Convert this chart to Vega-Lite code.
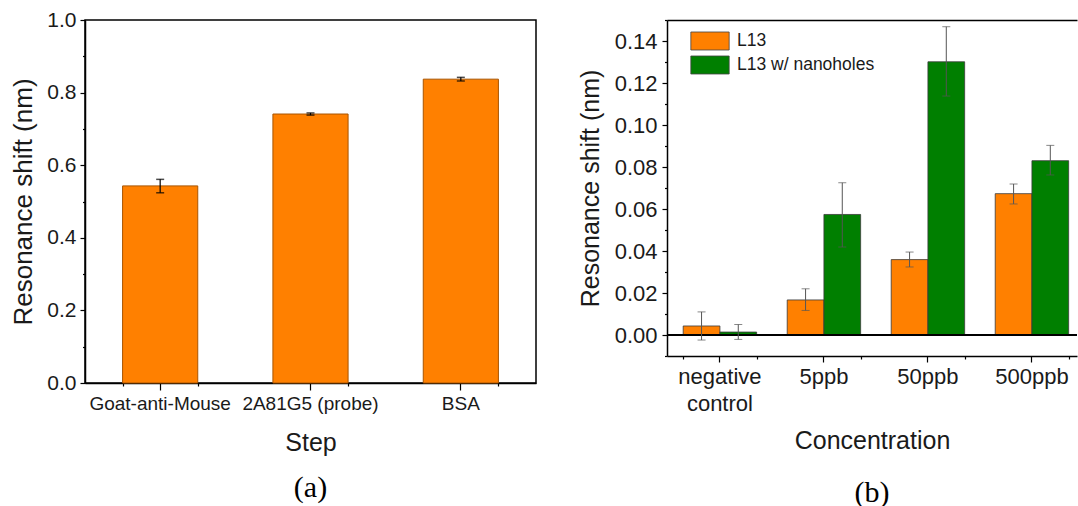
{
  "$schema": "https://vega.github.io/schema/vega-lite/v6.json",
  "background": "white",
  "padding": {"left": 10, "top": 8, "right": 0, "bottom": 0},
  "spacing": 41,
  "config": {
    "font": "Liberation Sans",
    "view": {"stroke": "black", "strokeWidth": 1.5},
    "axis": {
      "domainColor": "black", "domainWidth": 1.5, "tickColor": "black", "tickWidth": 1.2,
      "labelColor": "#1a1a1a", "titleColor": "#1a1a1a", "grid": false,
      "labelFont": "Liberation Sans", "titleFont": "Liberation Sans", "titleFontWeight": "normal"
    }
  },
  "hconcat": [
    {
      "width": 451,
      "height": 363,
      "title": {"text": "(a)", "orient": "bottom", "font": "Liberation Serif", "fontSize": 30, "fontWeight": "normal", "color": "black", "offset": 18},
      "data": {"values": [
        {"step": "Goat-anti-Mouse", "shift": 0.543, "lo": 0.524, "hi": 0.561},
        {"step": "2A81G5 (probe)", "shift": 0.741, "lo": 0.738, "hi": 0.744},
        {"step": "BSA", "shift": 0.837, "lo": 0.832, "hi": 0.842}
      ]},
      "resolve": {"axis": {"x": "independent", "y": "independent"}},
      "layer": [
        {
          "mark": {"type": "bar", "color": "#FF8000", "stroke": "#a85400", "strokeWidth": 1},
          "encoding": {
            "x": {"field": "step", "type": "nominal", "sort": null,
              "scale": {"paddingInner": 0.5, "paddingOuter": 0.25},
              "axis": {"orient": "bottom", "title": "Step", "labelAngle": 0, "labelFontSize": 19, "titleFontSize": 25, "tickSize": 7, "labelPadding": 4, "titlePadding": 17}},
            "y": {"field": "shift", "type": "quantitative",
              "scale": {"domain": [0, 1], "nice": false},
              "axis": {"orient": "left", "title": "Resonance shift (nm)", "values": [0, 0.2, 0.4, 0.6, 0.8, 1.0], "format": ".1f", "labelFontSize": 21, "titleFontSize": 26, "tickSize": 5, "labelPadding": 4, "titlePadding": 10}}
          }
        },
        {
          "mark": {"type": "rule", "color": "black", "strokeWidth": 1.2},
          "encoding": {
            "x": {"field": "step", "type": "nominal", "sort": null,
              "axis": {"orient": "bottom", "tickBand": "extent", "labels": false, "domain": false, "title": null, "tickSize": 3}},
            "y": {"field": "lo", "type": "quantitative",
              "axis": {"orient": "left", "values": [0.1, 0.3, 0.5, 0.7, 0.9], "labels": false, "domain": false, "title": null, "tickSize": 2.5}},
            "y2": {"field": "hi"}
          }
        },
        {
          "mark": {"type": "tick", "color": "black", "size": 8, "thickness": 1.5},
          "encoding": {
            "x": {"field": "step", "type": "nominal", "sort": null, "axis": null},
            "y": {"field": "lo", "type": "quantitative", "axis": null}
          }
        },
        {
          "mark": {"type": "tick", "color": "black", "size": 8, "thickness": 1.5},
          "encoding": {
            "x": {"field": "step", "type": "nominal", "sort": null, "axis": null},
            "y": {"field": "hi", "type": "quantitative", "axis": null}
          }
        }
      ]
    },
    {
      "width": 410,
      "height": 336,
      "view": {"stroke": null},
      "title": {"text": "(b)", "orient": "bottom", "font": "Liberation Serif", "fontSize": 30, "fontWeight": "normal", "color": "black", "offset": 25},
      "data": {"values": [
        {"conc": "negative control", "series": "L13", "shift": 0.0043, "lo": -0.0024, "hi": 0.0110},
        {"conc": "negative control", "series": "L13 w/ nanoholes", "shift": 0.0014, "lo": -0.0021, "hi": 0.0050},
        {"conc": "5ppb", "series": "L13", "shift": 0.0167, "lo": 0.0117, "hi": 0.0220},
        {"conc": "5ppb", "series": "L13 w/ nanoholes", "shift": 0.0574, "lo": 0.0419, "hi": 0.0725},
        {"conc": "50ppb", "series": "L13", "shift": 0.0359, "lo": 0.0324, "hi": 0.0395},
        {"conc": "50ppb", "series": "L13 w/ nanoholes", "shift": 0.1301, "lo": 0.1138, "hi": 0.1468},
        {"conc": "500ppb", "series": "L13", "shift": 0.0673, "lo": 0.0624, "hi": 0.0719},
        {"conc": "500ppb", "series": "L13 w/ nanoholes", "shift": 0.0830, "lo": 0.0762, "hi": 0.0903}
      ]},
      "resolve": {"axis": {"x": "independent", "y": "independent"}},
      "layer": [
        {
          "mark": {"type": "bar", "stroke": "#3a3a3a", "strokeWidth": 0.8},
          "encoding": {
            "x": {"field": "conc", "type": "nominal", "sort": null,
              "scale": {"paddingInner": 0.294, "paddingOuter": 0.118, "align": 0.66},
              "axis": {"orient": "bottom", "title": "Concentration", "labelAngle": 0, "labelFontSize": 22, "labelLineHeight": 27,
                "labelExpr": "datum.label == 'negative control' ? ['negative', 'control'] : datum.label",
                "titleFontSize": 25, "tickSize": 6, "labelPadding": 4, "titlePadding": 14}},
            "xOffset": {"field": "series", "type": "nominal", "sort": null, "scale": {"paddingInner": 0, "paddingOuter": 0}},
            "y": {"field": "shift", "type": "quantitative", "stack": null,
              "scale": {"domain": [-0.01, 0.15], "nice": false, "zero": false},
              "axis": {"orient": "left", "title": "Resonance shift (nm)", "values": [0, 0.02, 0.04, 0.06, 0.08, 0.10, 0.12, 0.14], "format": ".2f", "labelFontSize": 22, "titleFontSize": 25, "tickSize": 5, "labelPadding": 5, "titlePadding": 11}},
            "color": {"field": "series", "type": "nominal",
              "scale": {"domain": ["L13", "L13 w/ nanoholes"], "range": ["#FF8000", "#007F00"]},
              "legend": {"orient": "none", "legendX": 615, "legendY": 11, "title": null, "direction": "vertical",
                "symbolType": "M-2,-0.94H2V0.94H-2Z", "symbolSize": 367, "symbolStrokeColor": "#444", "symbolStrokeWidth": 0.8, "symbolOpacity": 1,
                "labelFontSize": 17.5, "labelFont": "Liberation Sans", "labelColor": "#1a1a1a", "labelOffset": 17, "rowPadding": 2, "padding": 0}}
          }
        },
        {
          "mark": {"type": "rule", "color": "black", "strokeWidth": 1.3},
          "encoding": {
            "y": {"datum": 0, "type": "quantitative",
              "axis": {"orient": "left", "values": [-0.01, 0.01, 0.03, 0.05, 0.07, 0.09, 0.11, 0.13, 0.15], "labels": false, "domain": false, "title": null, "tickSize": 2.5}}
          }
        },
        {
          "mark": {"type": "rule", "color": "#555", "strokeWidth": 1},
          "encoding": {
            "x": {"field": "conc", "type": "nominal", "sort": null,
              "axis": {"orient": "bottom", "tickBand": "extent", "labels": false, "domain": false, "title": null, "tickSize": 3}},
            "xOffset": {"field": "series", "type": "nominal", "sort": null},
            "y": {"field": "lo", "type": "quantitative", "axis": null},
            "y2": {"field": "hi"}
          }
        },
        {
          "mark": {"type": "tick", "color": "#555", "size": 8, "thickness": 1},
          "encoding": {
            "x": {"field": "conc", "type": "nominal", "sort": null,
              "axis": {"orient": "top", "ticks": false, "labels": false, "domain": true, "title": null}},
            "xOffset": {"field": "series", "type": "nominal", "sort": null},
            "y": {"field": "lo", "type": "quantitative", "axis": null}
          }
        },
        {
          "mark": {"type": "tick", "color": "#555", "size": 8, "thickness": 1},
          "encoding": {
            "x": {"field": "conc", "type": "nominal", "sort": null, "axis": null},
            "xOffset": {"field": "series", "type": "nominal", "sort": null},
            "y": {"field": "hi", "type": "quantitative", "axis": null}
          }
        }
      ]
    }
  ]
}
